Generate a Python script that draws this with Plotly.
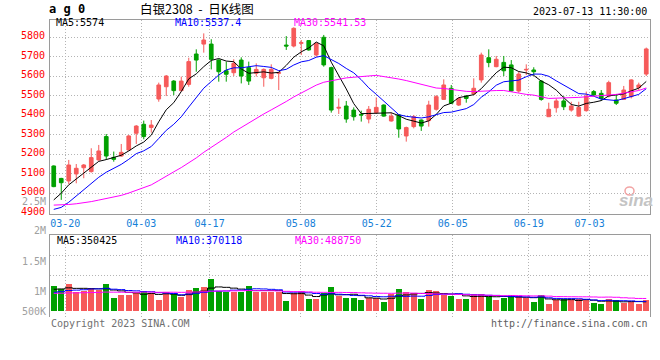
import pandas as pd
import plotly.graph_objects as go

# ---------------- data ----------------
holidays = ['2023-04-05', '2023-05-01', '2023-05-02', '2023-05-03', '2023-06-22', '2023-06-23']
dates = [d.strftime('%Y-%m-%d') for d in pd.bdate_range('2023-03-16', '2023-07-13')
         if d.strftime('%Y-%m-%d') not in holidays]

opens = [5139, 5075, 5062, 5098, 5130, 5110, 5170, 5290, 5183, 5190,
         5221, 5307, 5353, 5337, 5483, 5546, 5575, 5526, 5558, 5714,
         5765, 5765, 5683, 5628, 5618, 5683, 5644, 5615, 5592, 5589,
         5615, 5760, 5755, 5769, 5783, 5709, 5800, 5644, 5436, 5447,
         5426, 5404, 5380, 5413, 5452, 5370, 5401, 5293, 5341, 5375,
         5372, 5430, 5481, 5538, 5452, 5498, 5509, 5581, 5695, 5649,
         5671, 5658, 5524, 5632, 5632, 5575, 5392, 5438, 5473, 5426,
         5395, 5423, 5521, 5512, 5498, 5478, 5481, 5495, 5541, 5611]
highs = [5142, 5078, 5170, 5149, 5149, 5230, 5247, 5303, 5213, 5252,
         5298, 5349, 5372, 5375, 5567, 5606, 5580, 5598, 5695, 5738,
         5820, 5790, 5687, 5675, 5687, 5697, 5675, 5666, 5640, 5661,
         5623, 5806, 5851, 5786, 5786, 5772, 5812, 5649, 5486, 5473,
         5440, 5423, 5447, 5491, 5455, 5413, 5406, 5341, 5401, 5378,
         5474, 5503, 5584, 5555, 5491, 5503, 5589, 5721, 5738, 5704,
         5704, 5683, 5623, 5661, 5646, 5580, 5464, 5486, 5498, 5469,
         5469, 5521, 5529, 5529, 5577, 5509, 5550, 5584, 5567, 5747]
lows = [5030, 4965, 5045, 5050, 5076, 5105, 5166, 5170, 5161, 5187,
        5218, 5252, 5276, 5310, 5469, 5498, 5503, 5521, 5546, 5623,
        5721, 5635, 5572, 5572, 5601, 5563, 5555, 5598, 5546, 5584,
        5529, 5735, 5748, 5709, 5731, 5700, 5649, 5413, 5406, 5361,
        5372, 5367, 5358, 5406, 5392, 5367, 5284, 5264, 5332, 5319,
        5341, 5423, 5478, 5457, 5447, 5464, 5503, 5567, 5646, 5646,
        5601, 5521, 5515, 5606, 5606, 5474, 5392, 5413, 5426, 5418,
        5392, 5418, 5498, 5474, 5491, 5452, 5478, 5486, 5529, 5601]
closes = [5033, 5053, 5144, 5127, 5144, 5182, 5216, 5190, 5173, 5209,
          5293, 5344, 5290, 5349, 5555, 5601, 5526, 5575, 5675, 5683,
          5786, 5687, 5623, 5610, 5666, 5601, 5575, 5635, 5635, 5635,
          5618, 5755, 5846, 5772, 5735, 5769, 5658, 5426, 5440, 5380,
          5392, 5401, 5430, 5440, 5395, 5395, 5329, 5336, 5392, 5344,
          5452, 5495, 5555, 5461, 5486, 5486, 5538, 5709, 5670, 5687,
          5628, 5524, 5611, 5635, 5623, 5481, 5430, 5473, 5443, 5447,
          5440, 5498, 5503, 5486, 5567, 5461, 5529, 5581, 5555, 5740]
volumes = [977000, 846000, 1055000, 755000, 794000, 911000, 820000, 1055000, 521000, 625000,
           625000, 716000, 781000, 690000, 430000, 742000, 651000, 560000, 820000, 911000,
           938000, 1250000, 781000, 742000, 755000, 755000, 977000, 755000, 755000, 755000,
           755000, 391000, 716000, 781000, 469000, 469000, 690000, 951000, 586000, 521000,
           521000, 430000, 521000, 521000, 352000, 664000, 859000, 742000, 703000, 469000,
           820000, 781000, 638000, 599000, 469000, 469000, 664000, 664000, 560000, 430000,
           521000, 625000, 586000, 521000, 352000, 625000, 273000, 430000, 469000, 430000,
           469000, 430000, 313000, 273000, 469000, 430000, 313000, 352000, 273000, 430000]

# sessions before the first visible day (needed only for the moving averages)
prior_closes = [5060, 5040, 5020, 5000, 4990, 4980, 4960, 4950, 4940, 4930,
                4920, 4910, 4900, 4890, 4880, 4900, 4920, 4940, 4930, 4920,
                4950, 4880, 4800, 4830, 4877, 4880, 4930, 4980, 5000]
prior_volumes = [720000, 700000, 660000, 640000, 690000, 710000, 650000, 620000, 680000, 700000,
                 660000, 630000, 670000, 690000, 650000, 640000, 680000, 700000, 660000, 660000,
                 580000, 620000, 600000, 630000, 620000, 780000, 840000, 860000, 790000]

price_ticks = [4900, 5000, 5100, 5200, 5300, 5400, 5500, 5600, 5700, 5800, 5900]
date_ticks = ['2023-03-20', '2023-04-03', '2023-04-17', '2023-05-08',
              '2023-05-22', '2023-06-05', '2023-06-19', '2023-07-03']
vol_tick_labels = ['2.5M', '2M', '1.5M', '1M', '500K']
price_header = [('MA5:', '5574'), ('MA10:', '5537.4'), ('MA30:', '5541.53')]
vol_header = [('MA5:', '350425'), ('MA10:', '370118'), ('MA30:', '488750')]

# ---------------- derived ----------------
n_prior = len(prior_closes)
cs = pd.Series(prior_closes + closes, dtype=float)
vs = pd.Series(prior_volumes + volumes, dtype=float)
ma_price = [cs.rolling(w).mean().iloc[n_prior:].tolist() for w in (5, 10, 30)]
ma_vol = [vs.rolling(w).mean().iloc[n_prior:].tolist() for w in (5, 10, 30)]
x = list(range(len(dates)))

# ---------------- style ----------------
W, H = 660, 360
ML, MR, MT, MB = 50, 10, 20, 43
PH = H - MT - MB
PW = W - ML - MR
def ypap(p):
    return (H - MB - p) / PH
def xpap(p):
    return (p - ML) / PW

RED = '#F65A5A'
GREEN = '#00A000'
GRID = '#B4B4B4'
FRAME = '#9A9A9A'
MA_COLORS = ['#000000', '#0000FF', '#FF00FF']
MONO = 'DejaVu Sans Mono'
DASH = '1px,2px'
SLOT, GRID_STEP = 7.5, 7.6
grid_x = [(GRID_STEP * dates.index(d) - SLOT / 2) / SLOT for d in date_ticks]

fig = go.Figure()
fig.add_trace(go.Candlestick(
    x=x, open=opens, high=highs, low=lows, close=closes,
    increasing=dict(line=dict(color=RED, width=1), fillcolor=RED),
    decreasing=dict(line=dict(color=GREEN, width=1), fillcolor=GREEN),
    whiskerwidth=0, xaxis='x', yaxis='y', showlegend=False, hoverinfo='skip'))
for ma, col in zip(ma_price, MA_COLORS):
    fig.add_trace(go.Scatter(x=x, y=ma, mode='lines', line=dict(color=col, width=1),
                             xaxis='x', yaxis='y', showlegend=False, hoverinfo='skip'))

bar_colors = [RED if c >= o else GREEN for o, c in zip(opens, closes)]
fig.add_trace(go.Bar(x=x, y=volumes, width=0.8, marker=dict(color=bar_colors, line_width=0),
                     xaxis='x2', yaxis='y2', showlegend=False, hoverinfo='skip'))
for ma, col in zip(ma_vol, MA_COLORS):
    fig.add_trace(go.Scatter(x=x, y=ma, mode='lines', line=dict(color=col, width=1, shape='hvh'),
                             xaxis='x2', yaxis='y2', showlegend=False, hoverinfo='skip'))

xcommon = dict(range=[-0.5, len(dates) - 0.5], tickmode='array', tickvals=grid_x,
               showgrid=True, gridcolor=GRID, griddash=DASH, gridwidth=1,
               zeroline=False, ticks='', fixedrange=True)
fig.update_layout(
    width=W, height=H, margin=dict(l=ML, r=MR, t=MT, b=MB),
    paper_bgcolor='white', plot_bgcolor='white', hovermode=False, showlegend=False,
    boxgap=0.3, bargap=0,
    xaxis=dict(**xcommon, domain=[0, 1], anchor='y', ticktext=[d[5:] for d in date_ticks],
               tickfont=dict(family=MONO, size=10, color='#1580D8'),
               showline=True, linecolor=FRAME, linewidth=1, mirror=True,
               rangeslider=dict(visible=False)),
    yaxis=dict(domain=[ypap(214), 1], range=[4892.3, 5888.7], tickmode='array',
               tickvals=price_ticks[1:-1], showticklabels=False, showgrid=True,
               gridcolor=GRID, griddash=DASH, zeroline=False, showline=True,
               linecolor=FRAME, linewidth=1, mirror=True, ticks='', fixedrange=True),
    xaxis2=dict(**xcommon, domain=[0, 1], anchor='y2', showticklabels=False, side='top',
                showline=True, linecolor=FRAME, linewidth=1, mirror=False),
    yaxis2=dict(domain=[0, ypap(235)], range=[-0.234e6, 2.969e6], tickmode='array',
                tickvals=[1.395e6, 2.176e6], showticklabels=False, showgrid=True,
                gridcolor=GRID, griddash=DASH, zeroline=False, showline=True,
                linecolor=FRAME, linewidth=1, mirror=True, ticks='', fixedrange=True),
)

ann = []
for v in price_ticks:
    ann.append(dict(x=0, xref='paper', xanchor='right', xshift=-3, y=v, yref='y',
                    yanchor='middle', yshift=1.5, text=str(v), showarrow=False,
                    font=dict(family=MONO, size=10, color='#FF0000')))
for lab, p in zip(vol_tick_labels, [201, 230, 261, 291, 311]):
    ann.append(dict(x=0, xref='paper', xanchor='right', xshift=-3, y=ypap(p), yref='paper',
                    yanchor='middle', text=lab, showarrow=False, borderpad=0,
                    font=dict(family=MONO, size=10, color='#A0A0A0')))
for (k, v), col, px in zip(price_header, MA_COLORS, [55, 174, 293]):
    ann.append(dict(x=xpap(px), xref='paper', xanchor='left', y=ypap(23), yref='paper',
                    yanchor='middle', text=k + v, showarrow=False, borderpad=0,
                    font=dict(family=MONO, size=10, color=col)))
for (k, v), col, px in zip(vol_header, MA_COLORS, [55, 174, 293]):
    ann.append(dict(x=xpap(px), xref='paper', xanchor='left', y=ypap(240), yref='paper',
                    yanchor='middle', text=k + v, showarrow=False,
                    font=dict(family=MONO, size=10, color=col)))
ann.append(dict(x=xpap(48), xref='paper', xanchor='left', y=ypap(9), yref='paper',
                yanchor='middle', text='<b>a g 0</b>', showarrow=False, borderpad=0,
                font=dict(family=MONO, size=12, color='#000000')))
ann.append(dict(x=xpap(139), xref='paper', xanchor='left', y=ypap(8.5), yref='paper',
                yanchor='middle', text='白银2308 &nbsp;-&nbsp; 日K线图', showarrow=False,
                borderpad=0, font=dict(family='Noto Sans CJK SC', size=12.5, color='#000000')))
ann.append(dict(x=xpap(649), xref='paper', xanchor='right', y=ypap(11), yref='paper',
                yanchor='middle', text='2023-07-13 11:30:00', showarrow=False,
                font=dict(family=MONO, size=10, color='#000000')))
ann.append(dict(x=xpap(49), xref='paper', xanchor='left', y=ypap(323), yref='paper',
                yanchor='middle', text='Copyright 2023 SINA.COM', showarrow=False,
                font=dict(family=MONO, size=10, color='#707070')))
ann.append(dict(x=xpap(650), xref='paper', xanchor='right', y=ypap(323), yref='paper',
                yanchor='middle', text='http://finance.sina.com.cn', showarrow=False,
                font=dict(family=MONO, size=10, color='#606060')))
ann.append(dict(x=xpap(636), xref='paper', xanchor='center', y=ypap(200), yref='paper',
                yanchor='middle', text='<b><i>sina</i></b>', showarrow=False,
                font=dict(family='Liberation Sans', size=17, color='#C4C4C4')))
fig.update_layout(annotations=ann)
fig.add_shape(type='circle', xref='paper', yref='paper',
              x0=xpap(625), x1=xpap(634), y0=ypap(195), y1=ypap(187),
              line=dict(color='#F2A4A4', width=1.5), fillcolor='rgba(0,0,0,0)')

fig.write_html('out.html', config={'displayModeBar': False, 'staticPlot': True},
               post_script="document.body.style.margin='0';")
